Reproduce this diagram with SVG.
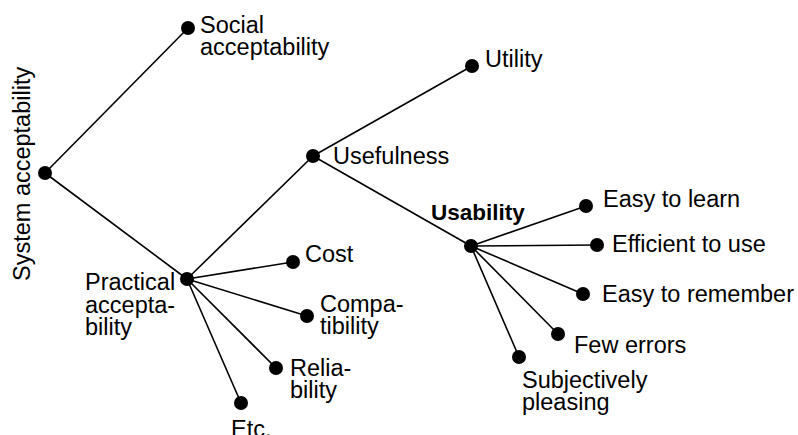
<svg xmlns="http://www.w3.org/2000/svg" width="798" height="435" viewBox="0 0 798 435">
<style>
text{font-family:"Liberation Sans",Arial,Helvetica,sans-serif;font-size:23.5px;fill:#000}
.b{font-weight:bold;font-size:22.5px}
.dot{fill:#000}
#connectors line{stroke:#000;stroke-width:1.6;stroke-linecap:round}
</style>
<rect width="798" height="435" fill="#fff"/>
<g id="connectors">
<line x1="45" y1="173" x2="188" y2="28"/>
<line x1="45" y1="173" x2="187" y2="279"/>
<line x1="187" y1="279" x2="313" y2="156"/>
<line x1="187" y1="279" x2="293" y2="262"/>
<line x1="187" y1="279" x2="307" y2="316"/>
<line x1="187" y1="279" x2="276" y2="368"/>
<line x1="187" y1="279" x2="241" y2="403"/>
<line x1="313" y1="156" x2="472" y2="66"/>
<line x1="313" y1="156" x2="471" y2="246"/>
<line x1="471" y1="246" x2="586" y2="206"/>
<line x1="471" y1="246" x2="597" y2="245"/>
<line x1="471" y1="246" x2="583" y2="294"/>
<line x1="471" y1="246" x2="558" y2="334"/>
<line x1="471" y1="246" x2="519" y2="357"/>
</g>
<g id="system">
<circle class="dot" cx="45" cy="173" r="7"/>
<text transform="translate(30,281) rotate(-90)">System acceptability</text>
</g>
<g id="social">
<circle class="dot" cx="188" cy="28" r="7"/>
<text x="200" y="33">Social</text>
<text x="200" y="55">acceptability</text>
</g>
<g id="practical">
<circle class="dot" cx="187" cy="279" r="7"/>
<text x="85" y="290">Practical</text>
<text x="85" y="313">accepta-</text>
<text x="85" y="335">bility</text>
</g>
<g id="cost">
<circle class="dot" cx="293" cy="262" r="7"/>
<text x="305" y="262">Cost</text>
</g>
<g id="compatibility">
<circle class="dot" cx="307" cy="316" r="7"/>
<text x="320" y="312">Compa-</text>
<text x="320" y="334">tibility</text>
</g>
<g id="reliability">
<circle class="dot" cx="276" cy="368" r="7"/>
<text x="290" y="376">Relia-</text>
<text x="290" y="398">bility</text>
</g>
<g id="etc">
<circle class="dot" cx="241" cy="403" r="7"/>
<text x="231" y="437">Etc.</text>
</g>
<g id="usefulness">
<circle class="dot" cx="313" cy="156" r="7"/>
<text x="333" y="164">Usefulness</text>
</g>
<g id="utility">
<circle class="dot" cx="472" cy="66" r="7"/>
<text x="485" y="67">Utility</text>
</g>
<g id="usability">
<circle class="dot" cx="471" cy="246" r="7"/>
<text class="b" x="431" y="220">Usability</text>
</g>
<g id="easy-learn">
<circle class="dot" cx="586" cy="206" r="7"/>
<text x="603" y="207">Easy to learn</text>
</g>
<g id="efficient">
<circle class="dot" cx="597" cy="245" r="7"/>
<text x="612" y="252">Efficient to use</text>
</g>
<g id="easy-remember">
<circle class="dot" cx="583" cy="294" r="7"/>
<text x="602" y="302">Easy to remember</text>
</g>
<g id="few-errors">
<circle class="dot" cx="558" cy="334" r="7"/>
<text x="574" y="353">Few errors</text>
</g>
<g id="subjective">
<circle class="dot" cx="519" cy="357" r="7"/>
<text x="522" y="388">Subjectively</text>
<text x="522" y="410">pleasing</text>
</g>
</svg>
